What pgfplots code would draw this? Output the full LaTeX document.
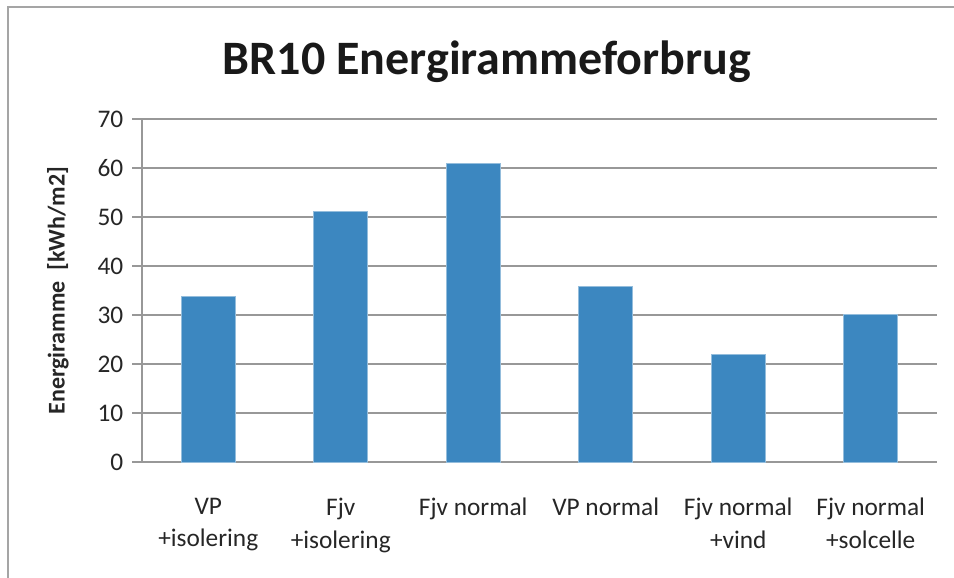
\documentclass[border=0pt]{standalone}
\usepackage{pgfplots}
\pgfplotsset{compat=1.18}
\usepackage{fontspec}
\setmainfont{Carlito}

\definecolor{barblue}{RGB}{60,135,192}
\definecolor{gridgray}{RGB}{152,152,152}
\definecolor{framegray}{RGB}{165,165,165}

\begin{document}
\begin{tikzpicture}
% page = 954 x 578 px, 1 px = 0.75 pt
\useasboundingbox (0,0) rectangle (715.5pt,-433.5pt);
\draw[framegray, line width=1.4pt] (6pt,-440pt) -- (6pt,-5.5pt) -- (720pt,-5.5pt);
\begin{axis}[
    at={(106.5pt,-346.5pt)}, anchor=south west,
    scale only axis,
    width=596.25pt, height=257.25pt,
    xmin=-0.5, xmax=5.5,
    ymin=0, ymax=70,
    ytick={0,10,...,70},
    xtick={0,1,2,3,4,5},
    xticklabels={{VP\\+isolering},{Fjv\\+isolering},{Fjv normal},{VP normal},{Fjv normal\\+vind},{Fjv normal\\+solcelle}},
    axis lines*=left,
    axis line style={gridgray, line width=1.2pt},
    ymajorgrids,
    grid style={gridgray, line width=1.2pt},
    tick align=outside,
    major tick length=7.5pt,
    ytick style={gridgray, line width=1.2pt},
    xtick style={draw=none},
    /pgf/number format/assume math mode=true,
    yticklabel style={font=\fontsize{19}{21}\selectfont, text=black!85, xshift=-3pt},
    xticklabel style={font=\fontsize{19}{24.5}\selectfont, text=black!85, align=center, anchor=north, yshift=-16pt},
    ylabel={Energiramme~~[kWh/m2]},
    ylabel style={at={(axis description cs:-0.1057,0.5)}, anchor=center, font=\bfseries\fontsize{18}{20}\selectfont, text=black!85},
    title={BR10 Energirammeforbrug},
    title style={at={(axis description cs:0.434,1.143)}, anchor=center, font=\bfseries\fontsize{36}{40}\selectfont, text=black!90},
    clip=false,
]
\addplot[ybar, bar width=40.5pt, fill=barblue, draw=barblue!55!white, line width=0.4pt]
    coordinates {(0,33.8) (1,51.2) (2,61.0) (3,35.9) (4,22.0) (5,30.2)};
\end{axis}
\end{tikzpicture}
\end{document}
